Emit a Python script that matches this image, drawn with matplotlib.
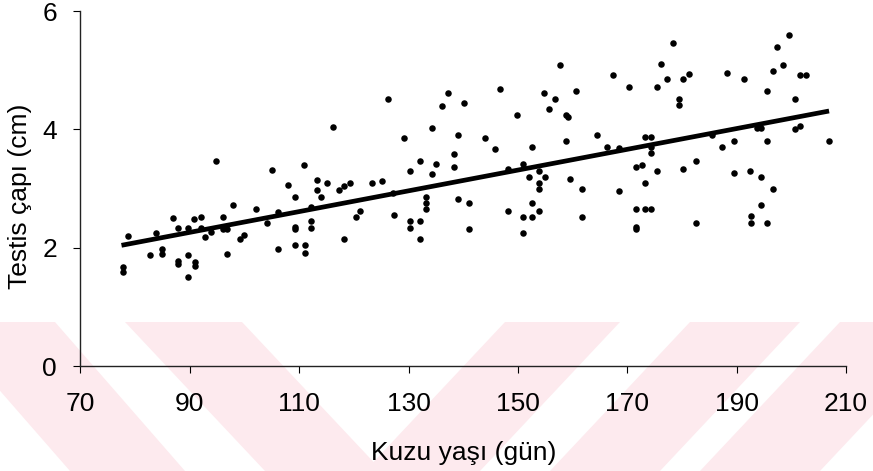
import numpy as np
import matplotlib.pyplot as plt
from matplotlib.patches import Polygon

# lamb age (days) and testis diameter (cm)
age = [78.7, 77.8, 77.8, 86.9, 83.8, 82.7, 84.9, 84.9, 87.9, 89.7,
       90.8, 92.0, 92.0, 92.8, 87.9, 87.9, 89.7, 90.9, 90.9, 89.7,
       93.9, 94.8, 96.0, 96.0, 96.8, 96.8, 97.9, 99.2, 99.9, 102.1,
       104.1, 105.1, 106.2, 106.2, 108.0, 109.2, 109.2, 109.2, 109.2, 110.9,
       111.1, 111.1, 112.1, 112.1, 112.1, 113.2, 113.2, 113.9, 115.0, 116.1,
       117.3, 118.1, 119.2, 118.1, 120.3, 121.1, 123.3, 125.1, 126.2, 127.2,
       127.3, 129.1, 130.3, 130.3, 130.3, 132.1, 132.1, 132.1, 133.2, 133.2,
       133.2, 134.3, 134.3, 135.1, 136.1, 137.2, 138.3, 138.3, 139.0, 139.0,
       140.1, 141.1, 141.1, 144.0, 145.8, 146.8, 148.1, 148.1, 149.8, 150.9,
       150.9, 150.9, 152.0, 152.6, 152.6, 152.6, 153.8, 153.8, 153.8, 153.8,
       154.8, 155.0, 155.6, 156.7, 157.7, 158.8, 159.2, 158.8, 159.5, 160.6,
       161.7, 161.7, 164.4, 166.2, 167.4, 168.5, 168.5, 170.3, 171.5, 171.5,
       171.5, 171.5, 172.6, 173.2, 174.3, 173.3, 173.3, 174.4, 174.3, 174.3,
       175.4, 175.4, 176.1, 177.2, 178.3, 179.5, 179.5, 180.1, 180.2, 181.3,
       182.5, 182.5, 185.4, 187.3, 188.3, 189.6, 189.6, 191.3, 192.5, 192.6,
       192.6, 193.7, 194.4, 194.4, 194.4, 195.5, 195.5, 195.6, 196.6, 196.6,
       197.3, 198.4, 199.5, 200.7, 200.7, 201.6, 201.5, 202.7, 206.8]
diam = [2.20, 1.68, 1.59, 2.51, 2.25, 1.87, 1.98, 1.90, 2.34, 2.34,
        2.48, 2.52, 2.33, 2.18, 1.78, 1.72, 1.87, 1.76, 1.69, 1.51,
        2.26, 3.46, 2.52, 2.31, 2.31, 1.90, 2.72, 2.14, 2.21, 2.65,
        2.42, 3.32, 2.61, 1.98, 3.06, 2.85, 2.35, 2.31, 2.05, 3.40,
        2.05, 1.91, 2.69, 2.45, 2.33, 3.15, 2.98, 2.85, 3.09, 4.04,
        2.97, 3.05, 3.09, 2.14, 2.52, 2.62, 3.09, 3.12, 4.51, 2.93,
        2.55, 3.86, 3.29, 2.45, 2.33, 3.47, 2.45, 2.14, 2.86, 2.76,
        2.65, 4.03, 3.25, 3.42, 4.40, 4.61, 3.59, 3.36, 3.90, 2.82,
        4.44, 2.75, 2.31, 3.86, 3.67, 4.68, 3.33, 2.62, 4.24, 3.41,
        2.52, 2.25, 3.19, 3.70, 2.75, 2.52, 3.29, 3.10, 2.99, 2.62,
        4.61, 3.19, 4.34, 4.51, 5.08, 4.24, 4.21, 3.81, 3.16, 4.65,
        2.99, 2.52, 3.90, 3.70, 4.92, 3.68, 2.96, 4.71, 3.37, 2.66,
        2.35, 2.31, 3.40, 3.87, 3.87, 3.10, 2.66, 2.66, 3.71, 3.60,
        4.71, 3.30, 5.10, 4.85, 5.46, 4.52, 4.41, 4.85, 3.33, 4.93,
        3.47, 2.42, 3.90, 3.70, 4.96, 3.81, 3.27, 4.85, 3.30, 2.53,
        2.42, 4.02, 4.02, 3.19, 2.72, 4.65, 3.81, 2.42, 4.99, 3.00,
        5.39, 5.08, 5.59, 4.51, 4.00, 4.05, 4.92, 4.92, 3.80]

# regression line end points as drawn in the figure
fit_x = [77.5, 206.9]
fit_y = [2.04, 4.31]

x_ticks = [70, 90, 110, 130, 150, 170, 190, 210]
y_ticks = [0, 2, 4, 6]

plt.rcParams['font.family'] = ['Liberation Sans', 'DejaVu Sans']

W, H = 873, 471
fig = plt.figure(figsize=(W / 100, H / 100), dpi=100)

# faint pink watermark stripes in the lower part of the scanned page
# (pixel positions: top edge x0, x1 at y=322, horizontal drift to y=471)
stripes = [(-60, 55, 130), (125, 242, 140), (505, 620, -140),
           (690, 800, -140), (840, 960, -140)]
for x0, x1, drift in stripes:
    pts = [(x0, 322), (x1, 322), (x1 + drift, H), (x0 + drift, H)]
    pts = [(px / W, 1 - py / H) for px, py in pts]
    fig.patches.append(Polygon(pts, closed=True, transform=fig.transFigure,
                               facecolor='#fdeaee', edgecolor='none', zorder=-5))

ax = fig.add_axes([0.0922, 0.2229, 0.8769, 0.7537])
ax.set_zorder(2)
ax.patch.set_alpha(0)

ax.scatter(age, diam, s=22, c='black', linewidths=0, zorder=3)
ax.plot(fit_x, fit_y, color='black', lw=3.4, solid_capstyle='butt', zorder=4)

ax.set_xlim(70, 210)
ax.set_ylim(0, 6)
ax.set_xticks(x_ticks)
ax.set_yticks(y_ticks)

for side in ['top', 'right']:
    ax.spines[side].set_visible(False)
for side in ['left', 'bottom']:
    ax.spines[side].set_linewidth(1.0)
    ax.spines[side].set_color('#222222')

ax.tick_params(axis='both', direction='out', length=5, width=0.8,
               labelsize=19, colors='black')
ax.tick_params(axis='x', pad=14)
ax.tick_params(axis='y', pad=12)

ax.set_xlabel("Kuzu yaşı (gün)", fontsize=19)
ax.set_ylabel("Testis çapı (cm)", fontsize=19)
ax.xaxis.set_label_coords(0.5, -0.212)
ax.yaxis.set_label_coords(-0.063, 0.478)

fig.savefig('out.png', dpi=100)
